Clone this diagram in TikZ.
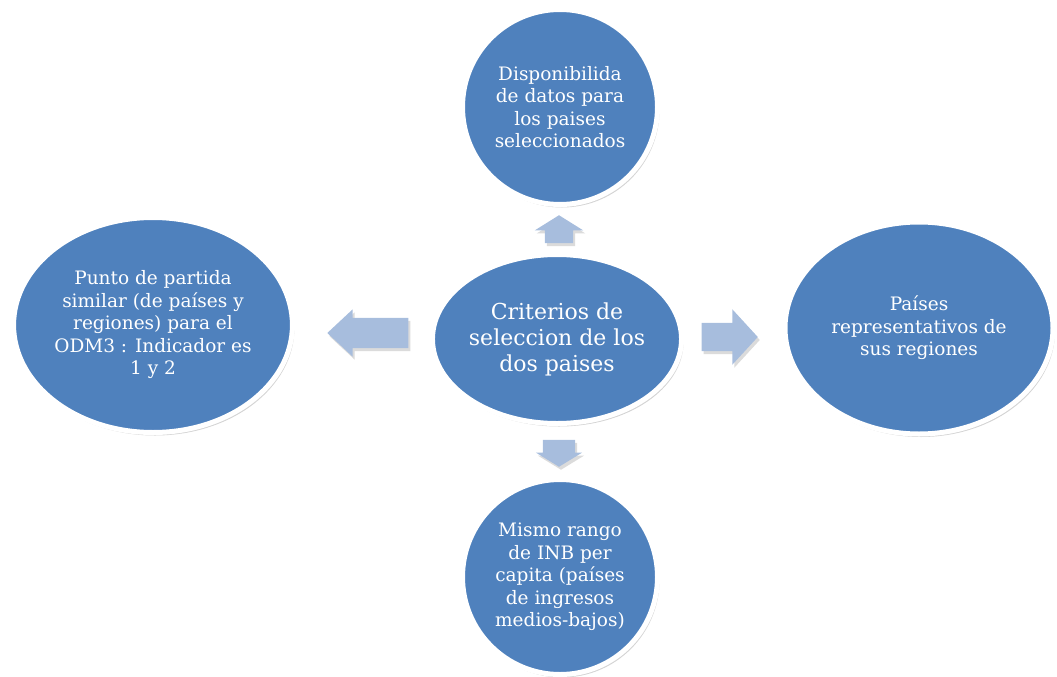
\documentclass[tikz,border=0pt]{standalone}
\usepackage{fontspec}
\setmainfont{DejaVu Serif}
\usetikzlibrary{positioning,shapes.geometric,shapes.arrows,shadows}
\definecolor{elF}{HTML}{4F81BD}
\definecolor{arF}{HTML}{A7BDDD}
\definecolor{shd}{HTML}{6F6F6F}

\begin{document}
\begin{tikzpicture}[
  x=1pt,y=-1pt,
  font=\fontsize{18.5}{22.5}\selectfont,text=white,
  bub/.style={ellipse,fill=elF,draw=white,line width=5pt,align=center,inner sep=0pt,
    drop shadow={shadow xshift=2pt,shadow yshift=-3pt,opacity=0.3,fill=shd}},
  arw/.style={single arrow,fill=arF,draw=none,inner xsep=0pt,anchor=tip,
    drop shadow={shadow xshift=2pt,shadow yshift=-3pt,opacity=0.25,fill=shd}},
  ]
\useasboundingbox (0,0) rectangle (1057,677);

% ================= centre =================
\node[bub,minimum width=233pt,minimum height=169pt,font=\fontsize{22}{26}\selectfont] (crit) at (557,339)
  {Criterios de\\seleccion de los\\dos paises};

% ================= four criteria =================
\node[bub,minimum width=195pt,minimum height=195pt] (datos) at (560,107)
  {Disponibilida\\de datos para\\los paises\\seleccionados};
\node[bub,minimum width=272pt,minimum height=215pt] (punto) at (153,325)
  {Punto de partida\\similar (de países y\\regiones) para el\\ODM3 : Indicador es\\1 y 2};
\node[bub,minimum width=268pt,minimum height=212pt] (repr) at (919,328)
  {Países\\representativos de\\sus regiones};
\node[bub,minimum width=195pt,minimum height=195pt] (rango) at (560,577)
  {Mismo rango\\de INB per\\capita (países\\de ingresos\\medios-bajos)};

% ================= block arrows =================
\node[arw,rotate=180,inner ysep=15pt,minimum height=81pt,
  single arrow head extend=8.5pt,single arrow tip angle=86] (aL) at (327,333) {};
\node[arw,inner ysep=14pt,minimum height=56pt,
  single arrow head extend=13.5pt,single arrow tip angle=95] (aR) at (758,337) {};
\node[arw,rotate=90,inner ysep=14pt,minimum height=28pt,
  single arrow head extend=10pt,single arrow tip angle=116] (aU) at (559,215) {};
\node[arw,rotate=-90,inner ysep=16pt,minimum height=27pt,
  single arrow head extend=7pt,single arrow tip angle=117] (aD) at (559,467) {};

\end{tikzpicture}
\end{document}
